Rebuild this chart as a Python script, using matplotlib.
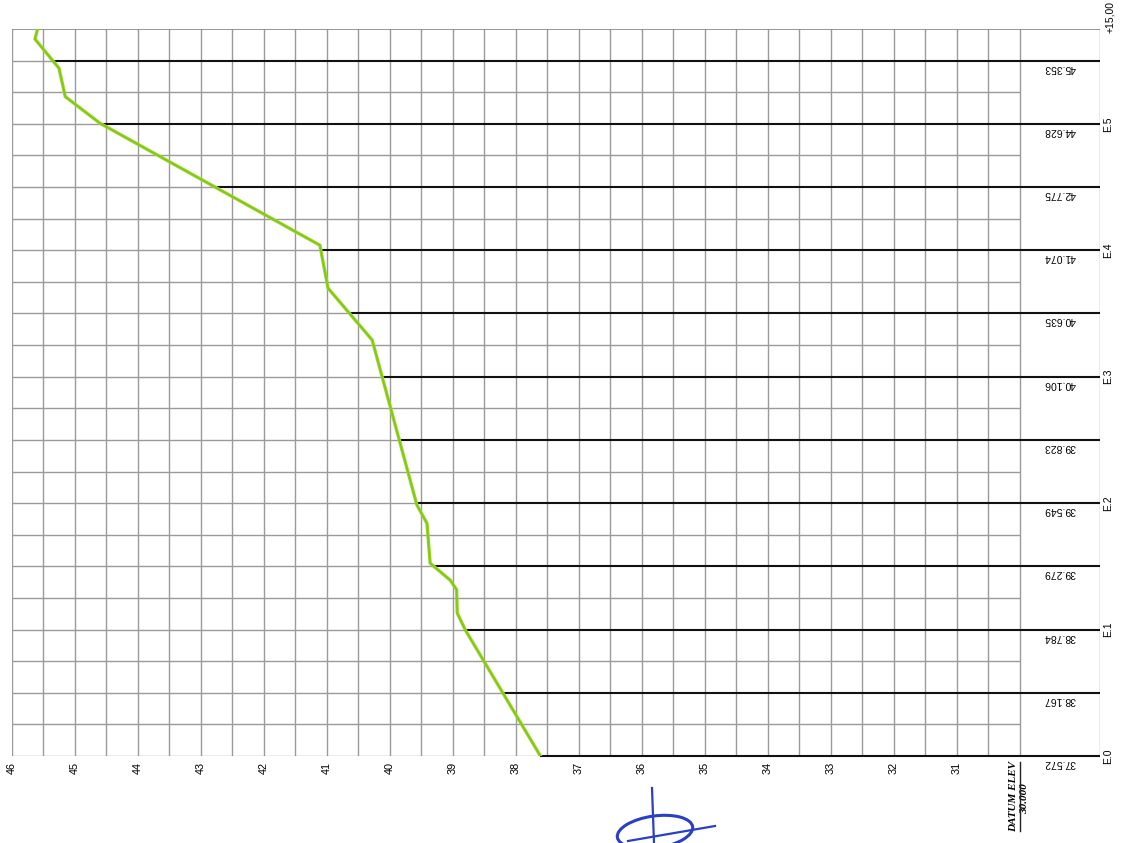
import numpy as np
import matplotlib
matplotlib.use("Agg")
import matplotlib.pyplot as plt
from matplotlib.patches import Ellipse
from matplotlib.lines import Line2D
from matplotlib.transforms import IdentityTransform

# ---------------- data ----------------
profile_station = [0.0, 19.9, 22.6, 26.3, 27.8, 30.5, 36.8, 39.7, 65.8, 74.0,
                   80.8, 100.1, 104.3, 108.8, 113.4, 115.0]
profile_elev = [37.61, 38.80, 38.93, 38.94, 39.04, 39.36, 39.41, 39.57, 40.28, 40.98,
                41.11, 44.60, 45.15, 45.25, 45.63, 45.59]

label_stations = [0, 10, 20, 30, 40, 50, 60, 70, 80, 90, 100, 110]
label_values = ["37.572", "38.167", "38.784", "39.279", "39.549", "39.823",
                "40.106", "40.635", "41.074", "42.775", "44.628", "45.353"]

chain_stations = [0, 20, 40, 60, 80, 100, 115]
chain_labels = ["E.0", "E.1", "E.2", "E.3", "E.4", "E.5", "+15,00"]

elev_ticks = [31, 32, 33, 34, 35, 36, 37, 38, 39, 40, 41, 42, 43, 44, 45, 46]
datum = 30.0
elev_max = 46.0
station_max = 115.0

# ---------------- layout ----------------
W, H = 1128, 843
fig = plt.figure(figsize=(W / 100, H / 100), dpi=100)
plt.rcParams['font.family'] = ['Liberation Sans', 'DejaVu Sans']

x_left, x_datum, x_right = 11.7, 1020.0, 1100.0
y_top, y_bot = 29.0, 756.0
px_per_m = (x_datum - x_left) / (elev_max - datum)
x_end = datum - (x_right - x_datum) / px_per_m

ax = fig.add_axes([x_left / W, (H - y_bot) / H, (x_right - x_left) / W, (y_bot - y_top) / H])
ax.set_xlim(elev_max, x_end)
ax.set_ylim(0, station_max)
for sp in ax.spines.values():
    sp.set_visible(False)

grey = '#9a9a9a'
# vertical grid lines every 0.5
ax.vlines(np.arange(datum, elev_max + 0.01, 0.5), 0, station_max, color=grey, lw=1.0, zorder=1)
ax.vlines([x_end], 0, station_max, color=grey, lw=1.0, zorder=1)
# top border
ax.hlines([station_max], elev_max, x_end, color='#7a7a7a', lw=1.1, zorder=1)

# horizontal station lines
for s in np.arange(0, station_max, 5):
    if s % 10 == 0:
        g = float(np.interp(s, profile_station, profile_elev))
        ax.hlines([s], elev_max, g, color=grey, lw=1.0, zorder=1)
        ax.hlines([s], g, x_end, color='#111111', lw=1.5, zorder=2, clip_on=False)
    else:
        ax.hlines([s], elev_max, datum, color=grey, lw=1.0, zorder=1)

# profile line
ax.plot(profile_elev, profile_station, color='#a2d51c', lw=2.4, zorder=4,
        solid_joinstyle='miter')
ax.plot(profile_elev, profile_station, color='#6cc32a', lw=1.0, zorder=5, alpha=0.8)

# ticks
ax.set_xticks(elev_ticks)
ax.set_xticklabels([str(t) for t in elev_ticks], rotation=90, fontsize=7.8)
ax.tick_params(axis='x', length=0, pad=4)
ax.set_yticks([])

# elevation values in label column
col_center = (datum + x_end) / 2
for s, v in zip(label_stations, label_values):
    ax.annotate(v, xy=(col_center, s), xytext=(0, -2), textcoords='offset pixels',
                rotation=180, ha='center', va='top', fontsize=7.5, annotation_clip=False)

# chainage labels
for s, lab in zip(chain_stations, chain_labels):
    if lab.startswith('+'):
        ax.annotate(lab, xy=(x_end, s), xytext=(10, -4), textcoords='offset pixels',
                    rotation=90, ha='center', va='bottom', fontsize=7.5, annotation_clip=False)
    else:
        ax.annotate(lab, xy=(x_end, s), xytext=(8, 0), textcoords='offset pixels',
                    rotation=90, ha='center', va='center', fontsize=7.5, annotation_clip=False)

# datum label
serif = dict(family='Liberation Serif', style='italic', weight='bold', fontsize=8,
             rotation=90, ha='center', va='center', annotation_clip=False)
ax.annotate("DATUM ELEV", xy=(datum, 0), xytext=(-6, -40), textcoords='offset pixels', **serif)
ax.annotate(f"{datum:.3f}", xy=(datum, 0), xytext=(5, -43), textcoords='offset pixels', **serif)
fig.add_artist(Line2D([1019.5, 1019.5], [H - 831, H - 762], transform=IdentityTransform(),
                      color='#222222', lw=1.0))

# signature
sig = '#2b3fc4'
fig.add_artist(Ellipse((655, H - 832), 76, 32, angle=8, fill=False, ec=sig, lw=2.2,
                       transform=IdentityTransform()))
fig.add_artist(Line2D([652, 654], [H - 788, H - 843], transform=IdentityTransform(), color=sig, lw=1.6))
fig.add_artist(Line2D([628, 715], [H - 841, H - 826], transform=IdentityTransform(), color=sig, lw=1.6))

fig.savefig('out.png', dpi=100)
